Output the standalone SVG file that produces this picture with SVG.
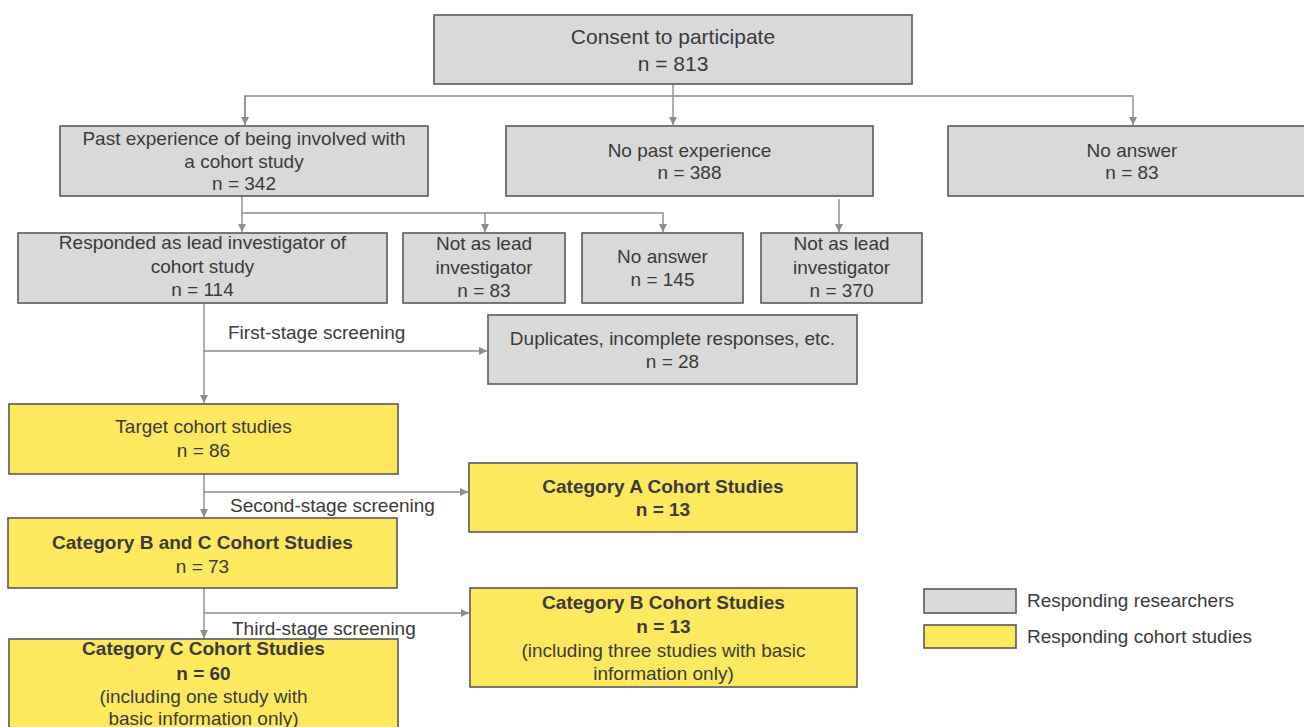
<svg xmlns="http://www.w3.org/2000/svg" width="1304" height="727" viewBox="0 0 1304 727">
<defs>
<style>
.box{stroke:#595959;stroke-width:1.6}
.g{fill:#d9d9d9}
.y{fill:#fde95e}
text{font-family:"Liberation Sans",Arial,sans-serif;font-size:19px;fill:#3a3a3a;text-anchor:middle}
.b{font-weight:bold}
.l{text-anchor:start}
.c{fill:none;stroke:#8c8c8c;stroke-width:1.4}
</style>
<marker id="ah" viewBox="0 0 10 10" refX="10" refY="5" markerWidth="8" markerHeight="8" markerUnits="userSpaceOnUse" orient="auto">
<path d="M0,0 L10,5 L0,10 z" fill="#8c8c8c"/>
</marker>
</defs>
<rect width="1304" height="727" fill="#ffffff"/>

<g id="connectors">
<path class="c" d="M673,84 V125" marker-end="url(#ah)"/>
<path class="c" d="M245,125 V96 H1133 V125" marker-end="url(#ah)"/>
<path class="c" d="M245,96 V125" marker-end="url(#ah)"/>
<path class="c" d="M242,196 V232" marker-end="url(#ah)"/>
<path class="c" d="M242,213 H663 V232" marker-end="url(#ah)"/>
<path class="c" d="M485,213 V232" marker-end="url(#ah)"/>
<path class="c" d="M839,199 V232" marker-end="url(#ah)"/>
<path class="c" d="M204,303 V403" marker-end="url(#ah)"/>
<path class="c" d="M204,351 H487" marker-end="url(#ah)"/>
<path class="c" d="M204,474 V517" marker-end="url(#ah)"/>
<path class="c" d="M204,492 H468" marker-end="url(#ah)"/>
<path class="c" d="M204,588 V638" marker-end="url(#ah)"/>
<path class="c" d="M204,613 H469" marker-end="url(#ah)"/>
<text class="l" x="228" y="339">First-stage screening</text>
<text class="l" x="230" y="512">Second-stage screening</text>
<text class="l" x="232" y="635">Third-stage screening</text>
</g>

<g id="consent">
<rect class="box g" x="434" y="15" width="478" height="69"/>
<text x="673" y="44" style="font-size:21px">Consent to participate</text>
<text x="673" y="71" style="font-size:21px">n = 813</text>
</g>

<g id="past">
<rect class="box g" x="60" y="126" width="368" height="70"/>
<text x="244" y="145">Past experience of being involved with</text>
<text x="244" y="167.5">a cohort study</text>
<text x="244" y="190">n = 342</text>
</g>

<g id="nopast">
<rect class="box g" x="506" y="126" width="367" height="70"/>
<text x="689.5" y="157">No past experience</text>
<text x="689.5" y="179">n = 388</text>
</g>

<g id="noanswer1">
<rect class="box g" x="948" y="126" width="368" height="70"/>
<text x="1132" y="157">No answer</text>
<text x="1132" y="179">n = 83</text>
</g>

<g id="responded">
<rect class="box g" x="18" y="233" width="369" height="70"/>
<text x="202.5" y="249">Responded as lead investigator of</text>
<text x="202.5" y="272.5">cohort study</text>
<text x="202.5" y="296">n = 114</text>
</g>

<g id="notlead1">
<rect class="box g" x="403" y="233" width="162" height="70"/>
<text x="484" y="250">Not as lead</text>
<text x="484" y="273.5">investigator</text>
<text x="484" y="297">n = 83</text>
</g>

<g id="noanswer2">
<rect class="box g" x="582" y="233" width="161" height="70"/>
<text x="662.5" y="263">No answer</text>
<text x="662.5" y="286">n = 145</text>
</g>

<g id="notlead2">
<rect class="box g" x="761" y="233" width="161" height="70"/>
<text x="841.5" y="250">Not as lead</text>
<text x="841.5" y="273.5">investigator</text>
<text x="841.5" y="297">n = 370</text>
</g>

<g id="duplicates">
<rect class="box g" x="488" y="315" width="369" height="69"/>
<text x="672.5" y="345">Duplicates, incomplete responses, etc.</text>
<text x="672.5" y="368">n = 28</text>
</g>

<g id="target">
<rect class="box y" x="9" y="404" width="389" height="70"/>
<text x="203.5" y="433">Target cohort studies</text>
<text x="203.5" y="457">n = 86</text>
</g>

<g id="catA">
<rect class="box y" x="469" y="463" width="388" height="69"/>
<text class="b" x="663" y="493">Category A Cohort Studies</text>
<text class="b" x="663" y="516">n = 13</text>
</g>

<g id="catBC">
<rect class="box y" x="8" y="518" width="389" height="70"/>
<text class="b" x="202.5" y="549">Category B and C Cohort Studies</text>
<text x="202.5" y="573">n = 73</text>
</g>

<g id="catB">
<rect class="box y" x="470" y="588" width="387" height="99"/>
<text class="b" x="663.5" y="609">Category B Cohort Studies</text>
<text class="b" x="663.5" y="633">n = 13</text>
<text x="663.5" y="657">(including three studies with basic</text>
<text x="663.5" y="680">information only)</text>
</g>

<g id="catC">
<rect class="box y" x="9" y="639" width="389" height="110"/>
<text class="b" x="203.5" y="655">Category C Cohort Studies</text>
<text class="b" x="203.5" y="680">n = 60</text>
<text x="203.5" y="703">(including one study with</text>
<text x="203.5" y="725">basic information only)</text>
</g>

<g id="legend">
<rect class="box g" x="924" y="589" width="92" height="24"/>
<rect class="box y" x="924" y="625" width="92" height="23"/>
<text class="l" x="1027" y="607">Responding researchers</text>
<text class="l" x="1027" y="643">Responding cohort studies</text>
</g>
</svg>
